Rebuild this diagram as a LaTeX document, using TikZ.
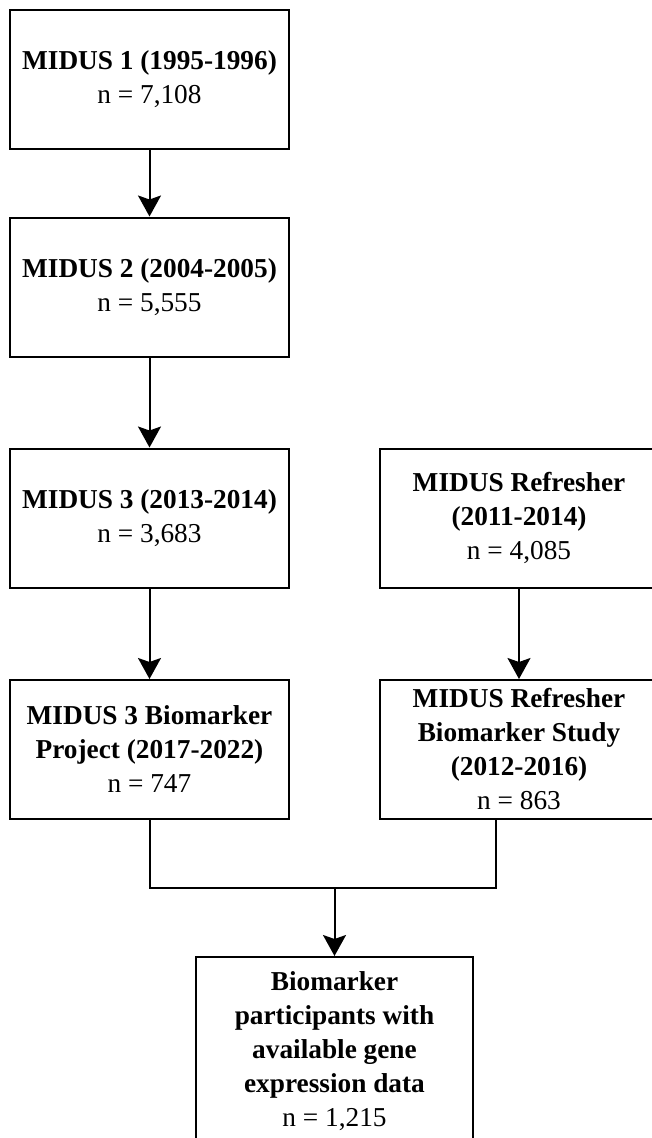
\documentclass[tikz,border=0pt]{standalone}
\usepackage{fontspec}
\setmainfont{Liberation Serif}
\usetikzlibrary{arrows.meta}

\tikzset{
	stage/.style={draw, line width=2pt, minimum width=279pt, minimum height=139pt,
		align=center, inner sep=0pt, font=\fontsize{27.3}{34}\selectfont},
	flow/.style={line width=2pt, -{Stealth[length=21pt,width=23pt,inset=4pt]}},
	link/.style={line width=2pt},
}

\begin{document}
\begin{tikzpicture}[x=1pt,y=-1pt]
	\clip (0,0) rectangle (652,1138);
	
	\node[stage] at (149.5,79.5) (m1) {\textbf{MIDUS 1 (1995-1996)}\\n = 7,108};
	\node[stage] at (149.5,287) (m2) {\textbf{MIDUS 2 (2004-2005)}\\n = 5,555};
	\node[stage] at (149.5,518) (m3) {\textbf{MIDUS 3 (2013-2014)}\\n = 3,683};
	\node[stage] at (149.5,749.5) (m3bio) {\textbf{MIDUS 3 Biomarker}\\\textbf{Project (2017-2022)}\\n = 747};
	
	\node[stage] at (519,518) (ref) {\textbf{MIDUS Refresher}\\\textbf{(2011-2014)}\\n = 4,085};
	\node[stage] at (519,749.5) (refbio) {\textbf{MIDUS Refresher}\\\textbf{Biomarker Study}\\\textbf{(2012-2016)}\\n = 863};
	
	\node[stage, minimum width=277pt, minimum height=189pt] at (334.5,1051.5) (gene)
	{\textbf{Biomarker}\\\textbf{participants with}\\\textbf{available gene}\\\textbf{expression data}\\n = 1,215};
	
	\coordinate (join) at (334.5,888);
	\coordinate (reffoot) at (496,819);
	
	\draw[flow] (m1) -- (m2);
	\draw[flow] (m2) -- (m3);
	\draw[flow] (m3) -- (m3bio);
	\draw[flow] (ref) -- (refbio);
	
	\draw[link] (m3bio.south) |- (reffoot |- join) -- (reffoot);
	\draw[flow] (join) -- (gene);
\end{tikzpicture}
\end{document}
